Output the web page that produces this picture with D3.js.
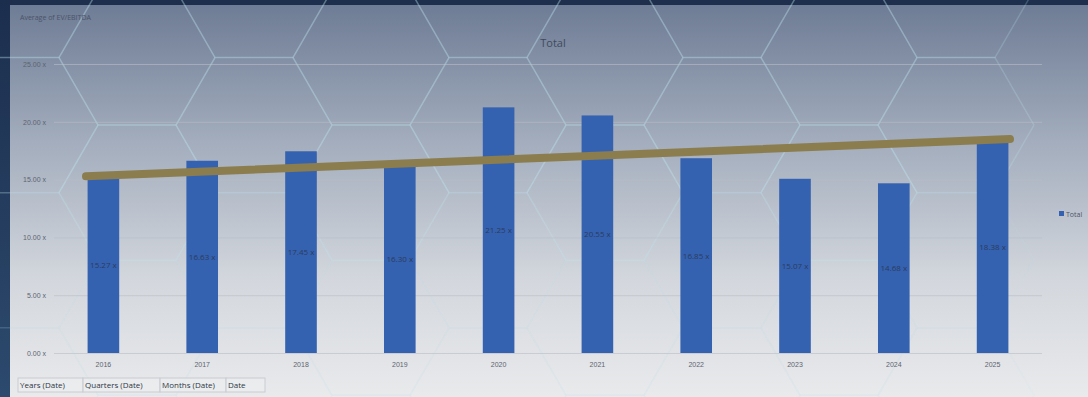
<!DOCTYPE html>
<html>
<head>
<meta charset="utf-8">
<script src="https://cdn.jsdelivr.net/npm/d3@7/dist/d3.min.js"></script>
<style>
  html, body { margin: 0; padding: 0; background: #1d2f4c; }
  svg { display: block; font-family: "Open Sans", "Liberation Sans", sans-serif; }
</style>
</head>
<body>
<div id="chart"></div>
<script>
// data
var years = ["2016", "2017", "2018", "2019", "2020", "2021", "2022", "2023", "2024", "2025"];
var totals = [15.27, 16.63, 17.45, 16.30, 21.25, 20.55, 16.85, 15.07, 14.68, 18.38];
var valueLabels = ["15.27 x", "16.63 x", "17.45 x", "16.30 x", "21.25 x", "20.55 x", "16.85 x", "15.07 x", "14.68 x", "18.38 x"];
var yTicks = [0, 5, 10, 15, 20, 25];
var trendEnds = [15.35, 18.45]; // linear trend at first / last year
var fieldButtons = ["Years (Date)", "Quarters (Date)", "Months (Date)", "Date"];

var W = 1088, H = 397;
var margin = {top: 64, left: 54, right: 46, bottom: 44};

var svg = d3.select("#chart").append("svg")
    .attr("width", W)
    .attr("height", H);

var defs = svg.append("defs");
var bg = defs.append("linearGradient")
    .attr("id", "bg").attr("x1", 0).attr("y1", 0).attr("x2", 0).attr("y2", 1);
bg.append("stop").attr("offset", "0%").attr("stop-color", "#6e7c95");
bg.append("stop").attr("offset", "35%").attr("stop-color", "#a3adbd");
bg.append("stop").attr("offset", "70%").attr("stop-color", "#d3d7dd");
bg.append("stop").attr("offset", "100%").attr("stop-color", "#e9eaec");

var side = defs.append("linearGradient")
    .attr("id", "side").attr("x1", 0).attr("y1", 0).attr("x2", 0).attr("y2", 1);
side.append("stop").attr("offset", "0%").attr("stop-color", "#1c2e4d");
side.append("stop").attr("offset", "100%").attr("stop-color", "#2c4a6e");

// frame + background
svg.append("rect").attr("width", W).attr("height", H).attr("fill", "#1d2f4c");
svg.append("rect")
    .attr("x", 10).attr("y", 5)
    .attr("width", W - 10).attr("height", H - 5)
    .attr("fill", "url(#bg)");
svg.append("rect")
    .attr("x", 0).attr("y", 0)
    .attr("width", 10).attr("height", H)
    .attr("fill", "url(#side)");

// faint hexagon pattern in the background
var hexR = 78;
var hexGrid = [];
for (var col = 0; col < 9; col++) {
    for (var row = 0; row < 4; row++) {
        hexGrid.push([20 + col * hexR * 1.5, -10 + row * hexR * Math.sqrt(3) + (col % 2 ? hexR * Math.sqrt(3) / 2 : 0)]);
    }
}
var hexLine = d3.line();
svg.append("g")
    .selectAll("path")
    .data(hexGrid)
    .join("path")
    .attr("d", function(c) {
        var pts = d3.range(7).map(function(i) {
            var a = Math.PI / 3 * i;
            return [c[0] + hexR * Math.cos(a), c[1] + hexR * Math.sin(a)];
        });
        return hexLine(pts);
    })
    .attr("fill", "none")
    .attr("stroke", "#bfe6f0")
    .attr("stroke-opacity", function(c, i) { return c[1] < 200 ? 0.22 : 0.1; })
    .attr("stroke-width", 1.5);

// scales
var x = d3.scaleBand()
    .domain(years)
    .range([margin.left, W - margin.right])
    .paddingInner(0.68)
    .paddingOuter(0.34);

var y = d3.scaleLinear()
    .domain([0, 25])
    .range([H - margin.bottom, margin.top]);

// gridlines
svg.append("g")
    .selectAll("line")
    .data(yTicks)
    .join("line")
    .attr("x1", margin.left)
    .attr("x2", W - margin.right)
    .attr("y1", function(d) { return y(d) + 0.5; })
    .attr("y2", function(d) { return y(d) + 0.5; })
    .attr("stroke", "#b9bec7")
    .attr("stroke-opacity", 0.6);

// y axis labels
var yAxis = d3.axisLeft(y)
    .tickValues(yTicks)
    .tickSize(0)
    .tickPadding(6)
    .tickFormat(function(d) { return d3.format(".2f")(d) + " x"; });
var gy = svg.append("g")
    .attr("transform", "translate(" + (margin.left - 2) + ",0)")
    .call(yAxis);
gy.select(".domain").remove();
gy.selectAll("text")
    .attr("fill", "#5d6470")
    .style("font-size", "7px");

// x axis labels
var xAxis = d3.axisBottom(x).tickSize(0).tickPadding(9);
var gx = svg.append("g")
    .attr("transform", "translate(0," + (H - margin.bottom) + ")")
    .call(xAxis);
gx.select(".domain").remove();
gx.selectAll("text")
    .attr("fill", "#5d6470")
    .style("font-size", "7px");

// bars
svg.append("g")
    .selectAll("rect")
    .data(totals)
    .join("rect")
    .attr("x", function(d, i) { return x(years[i]); })
    .attr("y", function(d) { return y(d); })
    .attr("width", x.bandwidth())
    .attr("height", function(d) { return y(0) - y(d); })
    .attr("fill", "#3562b0");

// value labels at bar middle
svg.append("g")
    .selectAll("text")
    .data(totals)
    .join("text")
    .attr("x", function(d, i) { return x(years[i]) + x.bandwidth() / 2; })
    .attr("y", function(d) { return (y(d) + y(0)) / 2 + 3; })
    .attr("text-anchor", "middle")
    .attr("fill", "#2a3c5e")
    .style("font-size", "8px")
    .text(function(d, i) { return valueLabels[i]; });

// trend line
var first = x(years[0]) + x.bandwidth() / 2;
var last = x(years[years.length - 1]) + x.bandwidth() / 2;
var ext = x.bandwidth() * 0.55;
var slope = (trendEnds[1] - trendEnds[0]) / (last - first);
svg.append("line")
    .attr("x1", first - ext)
    .attr("y1", y(trendEnds[0] - slope * ext))
    .attr("x2", last + ext)
    .attr("y2", y(trendEnds[1] + slope * ext))
    .attr("stroke", "#8b7d4e")
    .attr("stroke-width", 8)
    .attr("stroke-linecap", "round");

// titles
svg.append("text")
    .attr("x", 20).attr("y", 20)
    .attr("fill", "#4a5468")
    .style("font-size", "7px")
    .text("Average of EV/EBITDA");

svg.append("text")
    .attr("x", (margin.left + W - margin.right) / 2 + 5)
    .attr("y", 47)
    .attr("text-anchor", "middle")
    .attr("fill", "#3f4a5e")
    .style("font-size", "11px")
    .text("Total");

// legend
var lg = svg.append("g").attr("transform", "translate(1059,215)");
lg.append("rect").attr("x", 0).attr("y", -4).attr("width", 5).attr("height", 5).attr("fill", "#3562b0");
lg.append("text").attr("x", 7).attr("y", 1.5)
    .attr("fill", "#4d5566").style("font-size", "7px").text("Total");

// field buttons at the bottom
var bx = 18;
var bw = [65, 77, 66, 39];
var fb = svg.append("g").attr("transform", "translate(0,378)");
fieldButtons.forEach(function(label, i) {
    fb.append("rect")
        .attr("x", bx).attr("y", 0)
        .attr("width", bw[i]).attr("height", 14)
        .attr("fill", "#edeef0")
        .attr("fill-opacity", 0.6)
        .attr("stroke", "#c9ccd2");
    fb.append("text")
        .attr("x", bx + 2).attr("y", 10)
        .attr("fill", "#2f3644")
        .style("font-size", "8px")
        .text(label);
    bx += bw[i];
});
</script>
</body>
</html>
